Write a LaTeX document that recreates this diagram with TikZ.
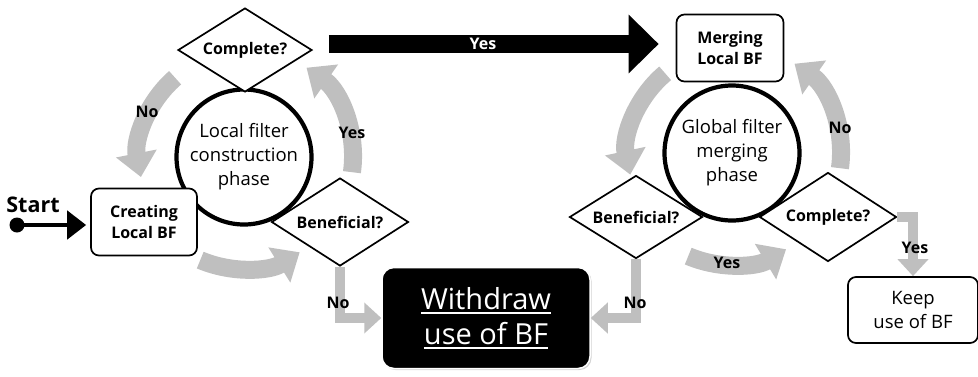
\documentclass[tikz,border=0pt]{standalone}
\usepackage{fontspec}
\setmainfont{Open Sans}
\usetikzlibrary{arrows.meta,shapes.geometric,calc,shadows}
\definecolor{arcgray}{HTML}{BFBFBF}
% text with a thick rule under it
\newcommand\thickul[1]{\setbox0=\hbox{#1}\rlap{\rule[-4.5pt]{\wd0}{1.6pt}}\box0}
\begin{document}
\begin{tikzpicture}[x=1pt,y=-1pt,
  every node/.style={inner sep=0pt},
  phase/.style={circle, draw, fill=white, line width=4.2pt, minimum size=135pt,
    align=center, font=\fontsize{18.5}{24}\selectfont},
  decide/.style={diamond, draw, fill=white, line width=1.7pt, aspect=1.6,
    font=\bfseries\fontsize{16}{20}\selectfont},
  stepbox/.style={rectangle, rounded corners=8pt, draw, fill=white,
    line width=1.7pt, align=center},
  lbl/.style={font=\bfseries\fontsize{16}{20}\selectfont},
  cyc/.style={draw=arcgray, line width=18pt, -{Triangle[width=40pt,length=24pt]}},
  elbow/.style={draw=arcgray, line width=10pt, -{Triangle[width=30pt,length=17pt]}}]
\useasboundingbox (0,0) rectangle (978,376);

% centres of the two phase circles
\coordinate (lcc) at (244,157);
\coordinate (rcc) at (732,153);

% grey cycle arrows round the local phase
\draw[cyc] ($(lcc)+(131:105pt)$) arc[start angle=131, end angle=191, radius=105pt];
\draw[cyc] ($(lcc)+(-8:109pt)$) arc[start angle=-8, end angle=55, radius=109pt];
\draw[cyc] ($(lcc)+(-113:112pt)$) arc[start angle=-113, end angle=-58, radius=108pt];

% grey cycle arrows round the global phase
\draw[cyc] ($(rcc)+(130:104pt)$) arc[start angle=130, end angle=192, radius=104pt];
\draw[cyc] ($(rcc)+(-8:109pt)$) arc[start angle=-8, end angle=55, radius=109pt];
\draw[cyc] ($(rcc)+(-113:112pt)$) arc[start angle=-113, end angle=-59, radius=108pt];

% phase circles
\node[phase] (lc) at (lcc) {Local filter\\construction\\phase};
\node[phase] (rc) at (rcc) {Global filter\\merging\\phase};

% local phase steps
\node[decide, minimum width=134pt, minimum height=84pt] (cmp1) at (245,50) {Complete?};
\node[decide, minimum width=137pt, minimum height=88pt] (ben1) at (340,222) {Beneficial?};
\node[stepbox, minimum width=106pt, minimum height=67pt,
  font=\bfseries\fontsize{16}{21}\selectfont] (crt) at (144,222) {Creating\\Local BF};

% global phase steps
\node[stepbox, minimum width=107pt, minimum height=67pt,
  font=\bfseries\fontsize{16}{21}\selectfont] (mrg) at (730,48) {Merging\\Local BF};
\node[decide, minimum width=133pt, minimum height=83pt] (ben2) at (636,217) {Beneficial?};
\node[decide, minimum width=137pt, minimum height=89pt] (cmp2) at (828,217) {Complete?};
\node[stepbox, minimum width=130pt, minimum height=66pt,
  font=\fontsize{18.5}{24}\selectfont] (keep) at (913,310) {Keep\\use of BF};

% final outcome
\node[rectangle, fill=black, draw=white, line width=1.5pt, rounded corners=12pt,
  minimum width=208pt, minimum height=101pt, text=white, align=center,
  drop shadow={opacity=0.35, shadow xshift=1.5pt, shadow yshift=-1.5pt},
  font=\fontsize{29}{35}\selectfont] (wd) at (486,318)
  {\thickul{Withdraw}\\\thickul{use of BF}};

% start marker
\node[circle, fill=black, minimum size=15pt] (st) at (17,225) {};
\node[lbl, font=\bfseries\fontsize{21.5}{24}\selectfont] (stl) at (33,205) {Start};
\draw[line width=4.5pt, -{Triangle[width=28pt,length=19pt]}]
  (st.center) -- ([xshift=-4pt]st -| crt.west);

% transition to the global phase
\draw[line width=18pt, -{Triangle[width=57pt,length=30pt]}]
  ($(cmp1.east)+(16,-6)$) -- ($(mrg.west)+(-17,-4)$);
\node[lbl, text=white] (ytop) at (483,44) {Yes};

% elbow connectors
\draw[elbow] (ben1.south) |- (wd.west);
\draw[elbow] (ben2.south) |- (wd.east);
\draw[elbow] (cmp2.east) -| (keep.north);

% branch labels
\node[lbl] (n1) at (147,112) {No};
\node[lbl] (y1) at (352,133) {Yes};
\node[lbl] (n2) at (338,303) {No};
\node[lbl] (n3) at (840,128) {No};
\node[lbl] (y2) at (727,263) {Yes};
\node[lbl] (n4) at (635,303) {No};
\node[lbl] (y3) at (915,248) {Yes};
\end{tikzpicture}
\end{document}
